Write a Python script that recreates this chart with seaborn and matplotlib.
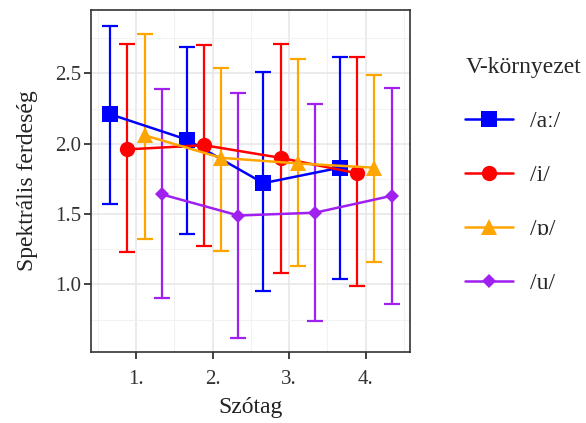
import matplotlib
matplotlib.use("Agg")
import matplotlib.pyplot as plt
from matplotlib.ticker import MultipleLocator
import numpy as np
import pandas as pd
import seaborn as sns

syllables = [1, 2, 3, 4]
tick_labels = ["1.", "2.", "3.", "4."]
vowels = ["/aː/", "/i/", "/ɒ/", "/u/"]

mean_a = [2.21, 2.03, 1.72, 1.83]
low_a = [1.57, 1.36, 0.95, 1.04]
high_a = [2.84, 2.69, 2.51, 2.62]

mean_i = [1.96, 1.99, 1.90, 1.79]
low_i = [1.23, 1.27, 1.08, 0.99]
high_i = [2.71, 2.70, 2.71, 2.62]

mean_o = [2.06, 1.90, 1.86, 1.83]
low_o = [1.32, 1.24, 1.13, 1.16]
high_o = [2.78, 2.54, 2.60, 2.49]

mean_u = [1.64, 1.49, 1.51, 1.63]
low_u = [0.90, 0.62, 0.74, 0.86]
high_u = [2.39, 2.36, 2.28, 2.40]

colors = ["#0000FF", "#FF0000", "#FFA500", "#A020F0"]
markers = ["s", "o", "^", "D"]
msizes = [11, 11, 12, 7.5]

means = [mean_a, mean_i, mean_o, mean_u]
lows = [low_a, low_i, low_o, low_u]
highs = [high_a, high_i, high_o, high_u]

rows = []
for k, v in enumerate(vowels):
    off = (k - 1.5) * 0.225
    for j, s in enumerate(syllables):
        rows.append({"x": s + off, "y": means[k][j], "lo": lows[k][j],
                     "hi": highs[k][j], "V": v})
df = pd.DataFrame(rows)

sns.set_style("whitegrid")
plt.rcParams["font.family"] = ["Liberation Serif", "DejaVu Serif"]

fig = plt.figure(figsize=(5.86, 4.23), dpi=100)
ax = fig.add_axes([0.155, 0.168, 0.545, 0.808])

for k, v in enumerate(vowels):
    d = df[df["V"] == v]
    ax.errorbar(d["x"], d["y"], yerr=[d["y"] - d["lo"], d["hi"] - d["y"]],
                fmt="none", ecolor=colors[k], elinewidth=1.6, capsize=6,
                capthick=1.6, zorder=2)

for k, v in enumerate(vowels):
    d = df[df["V"] == v]
    sns.lineplot(data=d, x="x", y="y", color=colors[k], marker=markers[k],
                 markersize=msizes[k], markeredgewidth=0, linewidth=1.8,
                 ax=ax, label=v, zorder=3)

ax.set_xlim(0.41, 4.58)
ax.set_ylim(0.52, 2.95)
ax.set_xticks(syllables)
ax.set_xticklabels(tick_labels)
ax.set_yticks([1.0, 1.5, 2.0, 2.5])
ax.set_yticklabels(["1.0", "1.5", "2.0", "2.5"])
ax.xaxis.set_minor_locator(MultipleLocator(0.5))
ax.yaxis.set_minor_locator(MultipleLocator(0.25))
ax.grid(which="major", color="#e6e6e6", linewidth=1.1)
ax.grid(which="minor", color="#f2f2f2", linewidth=0.8)
ax.tick_params(axis="both", which="major", labelsize=15, length=5, width=1.3,
               color="#333333", labelcolor="#333333", direction="out",
               bottom=True, left=True)
ax.tick_params(axis="x", which="major", pad=8)
ax.tick_params(axis="y", which="major", pad=2)
ax.tick_params(which="minor", length=0)
for sp in ax.spines.values():
    sp.set_color("#333333")
    sp.set_linewidth(1.2)
ax.set_xlabel("Szótag", fontsize=17, color="#222222", labelpad=6)
ax.set_ylabel("Spektrális ferdeség", fontsize=17, color="#222222", labelpad=12)

leg = ax.legend(title="V-környezet", loc="upper left",
                bbox_to_anchor=(1.106, 0.926), frameon=False, fontsize=17,
                title_fontsize=17, labelspacing=1.38, handlelength=2.0,
                handletextpad=0.75)
leg._legend_box.align = "left"

fig.savefig("out.png", dpi=100)
